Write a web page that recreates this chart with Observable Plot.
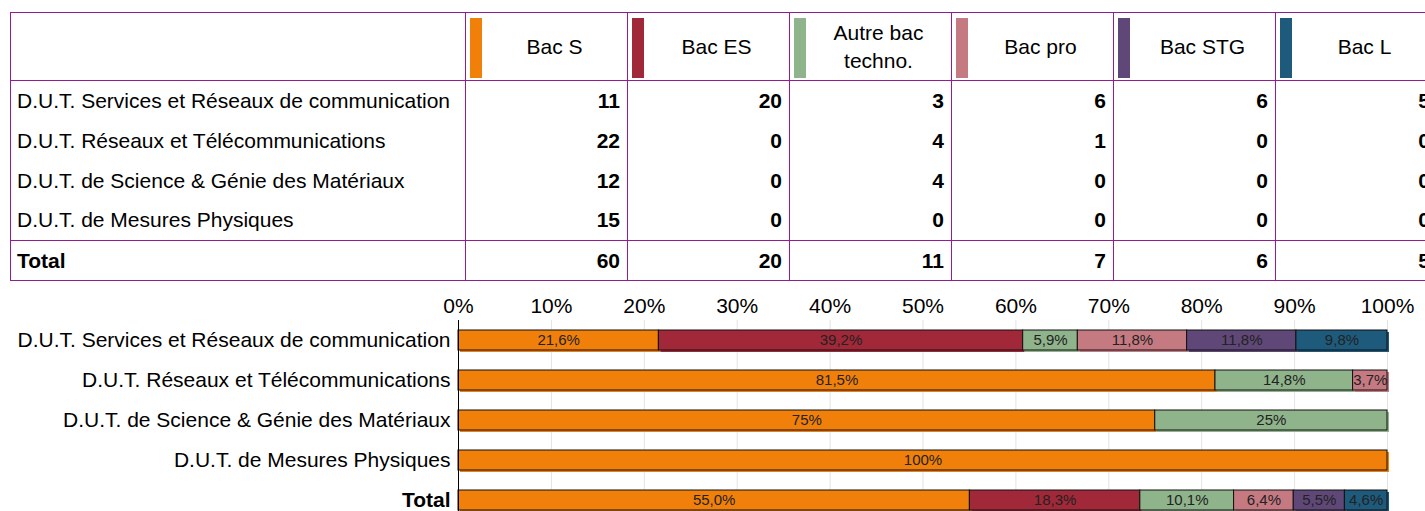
<!DOCTYPE html>
<html>
<head>
<meta charset="utf-8">
<script src="https://cdn.jsdelivr.net/npm/d3@7"></script>
<script src="https://cdn.jsdelivr.net/npm/@observablehq/plot@0.6"></script>
<style>
  html, body { margin: 0; padding: 0; background: #fff; }
  body { width: 1425px; height: 511px; overflow: hidden; position: relative;
         font-family: "Liberation Sans", Arial, sans-serif; color: #000; }
  #tbl { position: absolute; left: 10px; top: 12px; width: 1600px; }
  table { border-collapse: collapse; table-layout: fixed; font-size: 21px; width: 1427px; }
  td { padding: 0; border-left: 1px solid #931c93; border-right: 1px solid #931c93; height: 40px; box-sizing: border-box; line-height: 24px; }
  table { border-top: 1.5px solid #931c93; border-bottom: 1.5px solid #931c93; }
  tr.head td { height: 68px; border-bottom: 1.5px solid #931c93; position: relative; text-align: center; padding-left: 16px; line-height: 28px; }
  tr.head td.first { padding-left: 0; }
  tr.total td { border-top: 1.5px solid #931c93; font-weight: bold; }
  td.lab { padding-left: 6px; text-align: left; }
  td.num { text-align: right; padding-right: 7px; font-weight: bold; }
  .sw { position: absolute; left: 4px; top: 5px; width: 12px; height: 60px; }
  #chart { position: absolute; left: 0; top: 290px; }
</style>
</head>
<body>
<div id="tbl"></div>
<div id="chart"></div>
<script>
const programs = [
  "D.U.T. Services et Réseaux de communication",
  "D.U.T. Réseaux et Télécommunications",
  "D.U.T. de Science & Génie des Matériaux",
  "D.U.T. de Mesures Physiques"
];
const totalLabel = "Total";
const bacs = ["Bac S", "Bac ES", "Autre bac techno.", "Bac pro", "Bac STG", "Bac L"];
const bacHeaders = ["Bac S", "Bac ES", "Autre bac<br>techno.", "Bac pro", "Bac STG", "Bac L"];
const colors = ["#F0800A", "#A02838", "#8FB38A", "#C57A82", "#5F4877", "#1E5A7C"];

// counts per bac, one value per program (same order as programs)
const bacS     = [11, 22, 12, 15];
const bacES    = [20, 0, 0, 0];
const bacAutre = [3, 4, 4, 0];
const bacPro   = [6, 1, 0, 0];
const bacSTG   = [6, 0, 0, 0];
const bacL     = [5, 0, 0, 0];
const xTicks = [0, 0.1, 0.2, 0.3, 0.4, 0.5, 0.6, 0.7, 0.8, 0.9, 1];

const series = [bacS, bacES, bacAutre, bacPro, bacSTG, bacL];
const totals = series.map(s => d3.sum(s));

// ---- table ----
let html = "<table><colgroup><col style='width:455px'>" + bacs.map(() => "<col style='width:162px'>").join("") + "</colgroup>";
html += "<tr class='head'><td class='first'></td>" + bacHeaders.map((b, i) =>
  `<td><div class="sw" style="background:${colors[i]}"></div>${b}</td>`).join("") + "</tr>";
programs.forEach((p, r) => {
  html += `<tr><td class="lab">${p}</td>` + series.map(s => `<td class="num">${s[r]}</td>`).join("") + "</tr>";
});
html += `<tr class="total"><td class="lab">${totalLabel}</td>` + totals.map(t => `<td class="num">${t}</td>`).join("") + "</tr>";
html += "</table>";
document.getElementById("tbl").innerHTML = html;

// ---- chart rows ----
const rowNames = [...programs, totalLabel];
const rowCounts = [...programs.map((p, r) => series.map(s => s[r])), totals];
const fmtPct = v => {
  const p = v * 100;
  const s = Number.isInteger(p) ? String(p) : p.toFixed(1);
  return s.replace(".", ",") + "%";
};
const rows = [];
rowNames.forEach((name, r) => {
  const sum = d3.sum(rowCounts[r]);
  bacs.forEach((b, i) => {
    const c = rowCounts[r][i];
    if (c > 0) rows.push({program: name, bac: b, count: c, label: fmtPct(c / sum)});
  });
});

const stackOpts = {x: "count", y: "program", offset: "normalize", order: bacs};

const chart = Plot.plot({
  width: 1425,
  height: 230,
  marginTop: 30,
  marginLeft: 458,
  marginRight: 38,
  marginBottom: 0,
  style: {fontFamily: "'Liberation Sans', Arial, sans-serif", fontSize: "21px", color: "#000", background: "transparent"},
  x: {domain: [0, 1], label: null},
  y: {domain: rowNames, paddingInner: 0.5, paddingOuter: 0.25, label: null},
  color: {domain: bacs, range: colors},
  marks: [
    Plot.gridX(xTicks, {stroke: "#e3e3e3", strokeOpacity: 1}),
    Plot.axisX(xTicks, {anchor: "top", tickSize: 0, tickPadding: 8, fontSize: 21, label: null, tickFormat: d => Math.round(d * 100) + "%"}),
    Plot.barX(rows, Plot.stackX({...stackOpts, fill: "bac", dx: 2, dy: 2})),
    Plot.barX(rows, Plot.stackX({...stackOpts, fill: "bac", stroke: "#111", strokeWidth: 1})),
    Plot.text(rows, Plot.stackX({...stackOpts, z: "bac", text: "label", fill: "#222", fontSize: 15})),
    Plot.ruleX([0], {stroke: "#000", strokeWidth: 1}),
    Plot.axisY(programs, {tickSize: 0, tickPadding: 8, fontSize: 21, label: null}),
    Plot.axisY([totalLabel], {tickSize: 0, tickPadding: 8, fontSize: 21, fontWeight: "bold", label: null})
  ]
});
document.getElementById("chart").appendChild(chart);
</script>
</body>
</html>
